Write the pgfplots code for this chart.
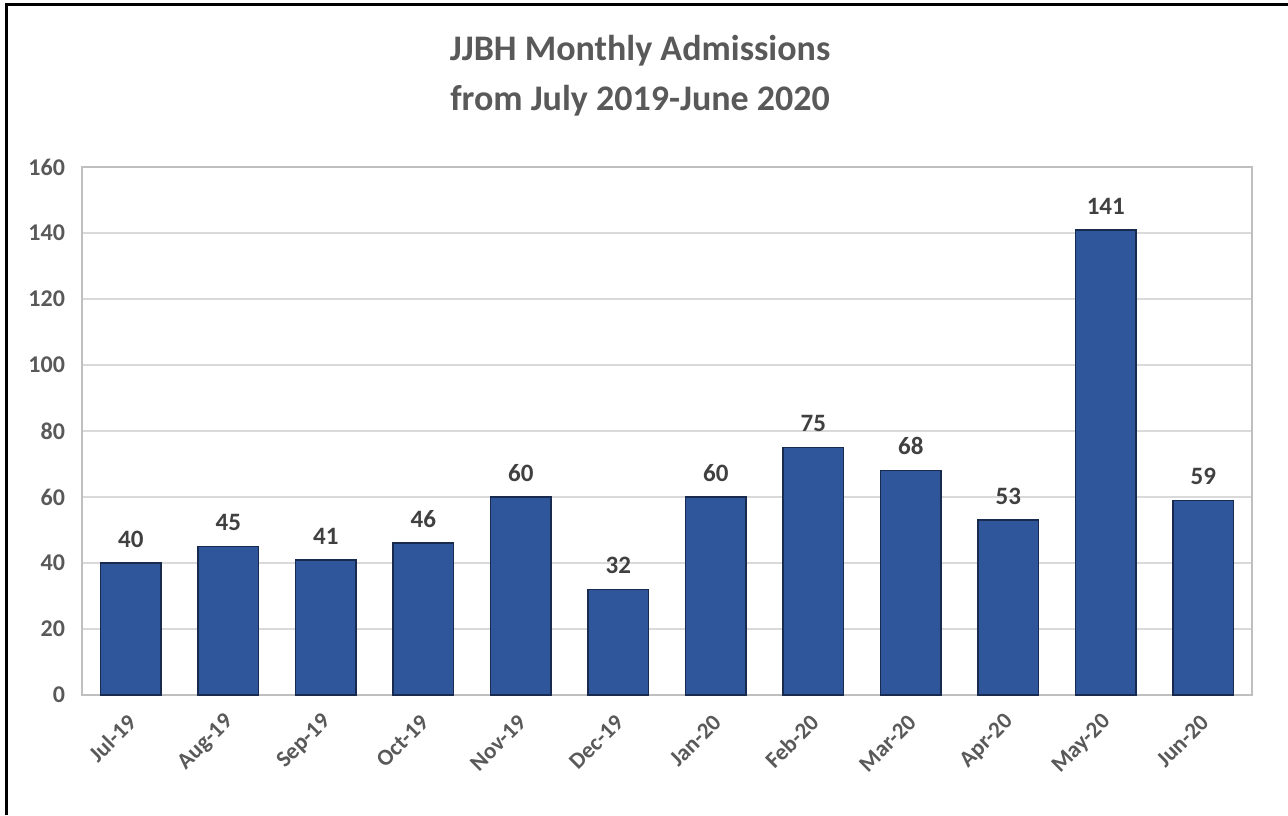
\documentclass[border=0pt]{standalone}
\usepackage{pgfplots}
\pgfplotsset{compat=1.18}
\usepackage{fontspec}
\setmainfont{Carlito}
\definecolor{txtgray}{HTML}{595959}
\definecolor{lblgray}{HTML}{404040}
\definecolor{gridgray}{HTML}{D9D9D9}
\definecolor{boxgray}{HTML}{BFBFBF}
\definecolor{barfill}{RGB}{47,86,155}
\definecolor{baredge}{RGB}{24,42,78}

\begin{document}
\begin{tikzpicture}
\path[use as bounding box] (-41pt,-60pt) rectangle (603pt,347.5pt);
\draw[line width=1.5pt, black] (-37.5pt,-60pt) -- (-37.5pt,345pt) -- (603pt,345pt);
\begin{axis}[
    at={(0,0)}, anchor=south west,
    scale only axis,
    width=585pt, height=264pt,
    ybar,
    bar width=0.62,
    xmin=-0.5, xmax=11.5,
    ymin=0, ymax=160,
    ytick={0,20,...,160},
    xtick=data,
    xticklabels={Jul-19,Aug-19,Sep-19,Oct-19,Nov-19,Dec-19,Jan-20,Feb-20,Mar-20,Apr-20,May-20,Jun-20},
    /pgf/number format/assume math mode=true,
    major tick length=0pt,
    ymajorgrids,
    grid style={gridgray, line width=0.6pt},
    axis line style={boxgray, line width=0.8pt},
    yticklabel style={font=\bfseries\fontsize{12}{14}\selectfont, text=txtgray, xshift=-5pt},
    xticklabel style={font=\bfseries\fontsize{11.5}{13}\selectfont, text=txtgray, xshift=1.5pt, yshift=-11pt, rotate=45, anchor=east, inner sep=1pt},
    nodes near coords,
    every node near coord/.append style={font=\bfseries\fontsize{12.5}{14}\selectfont, text=lblgray, yshift=4pt},
    title={JJBH Monthly Admissions\\from July 2019-June 2020},
    title style={font=\bfseries\fontsize{18}{25}\selectfont, text=txtgray, align=center, at={(0.477,1)}, yshift=16pt},
]
\addplot[fill=barfill, draw=baredge, line width=0.8pt] coordinates {
    (0,40) (1,45) (2,41) (3,46) (4,60) (5,32)
    (6,60) (7,75) (8,68) (9,53) (10,141) (11,59)
};
\end{axis}
\end{tikzpicture}
\end{document}
